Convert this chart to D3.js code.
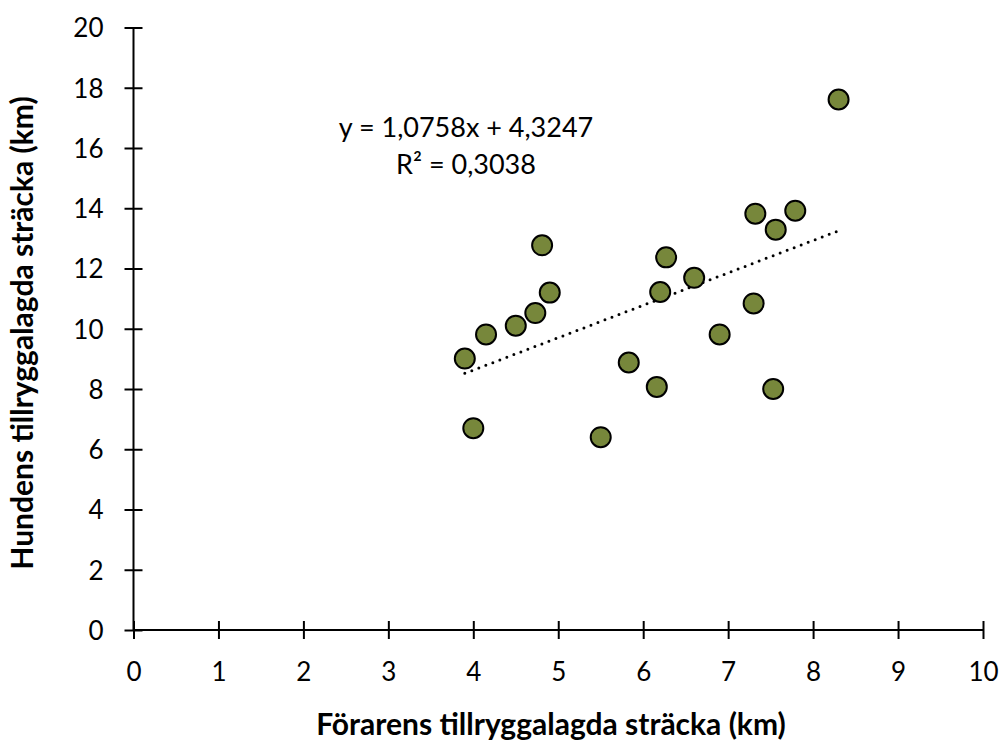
<!DOCTYPE html>
<html lang="sv">
<head>
  <meta charset="UTF-8">
  <title>Hund vs förare</title>
  <script src="https://d3js.org/d3.v7.min.js"></script>
  <style>
    body { margin: 0; background: #fff; }
    text { font-family: Lato, "Open Sans", sans-serif; fill: #000; }
    .tick text { font-size: 26px; }
    .axis-title { font-size: 30px; font-weight: bold; }
    .eq { font-size: 27px; }
  </style>
</head>
<body>
  <svg width="1002" height="740"></svg>

  <script>
    // förarens sträcka (km)
    const forare = [3.90, 4.00, 4.15, 4.50, 4.73, 4.81, 4.90, 5.50, 5.83, 6.16,
                    6.20, 6.27, 6.60, 6.90, 7.30, 7.32, 7.53, 7.56, 7.79, 8.30];
    // hundens sträcka (km)
    const hund = [9.01, 6.70, 9.81, 10.10, 10.52, 12.77, 11.20, 6.40, 8.88, 8.07,
                  11.22, 12.37, 11.69, 9.81, 10.84, 13.82, 8.00, 13.29, 13.92, 17.61];
    const xTicks = [0, 1, 2, 3, 4, 5, 6, 7, 8, 9, 10];
    const yTicks = [0, 2, 4, 6, 8, 10, 12, 14, 16, 18, 20];
    const slope = 1.0758, intercept = 4.3247;
    const eqLines = ["y = 1,0758x + 4,3247", "R² = 0,3038"];

    const svg = d3.select("svg");
    const x = d3.scaleLinear().domain([0, 10]).range([133.5, 983]);
    const y = d3.scaleLinear().domain([0, 20]).range([630, 27.5]);

    const xAxis = svg.append("g")
      .attr("transform", "translate(0,630)")
      .call(d3.axisBottom(x).tickValues(xTicks).tickSize(9).tickFormat(d3.format("d")));
    xAxis.selectAll(".tick line").attr("y1", -9);
    xAxis.selectAll(".tick text").attr("y", 51).attr("dy", null);

    const yAxis = svg.append("g")
      .attr("transform", "translate(133.5,0)")
      .call(d3.axisLeft(y).tickValues(yTicks).tickSize(9).tickFormat(d3.format("d")));
    yAxis.selectAll(".tick line").attr("x1", 9);
    yAxis.selectAll(".tick text").attr("x", -30).attr("dy", "0.36em");

    // plain axis lines without end caps
    xAxis.select(".domain").attr("d", `M${x(0)},0H${x(10)}`);
    yAxis.select(".domain").attr("d", `M0,${y(0)}V${y(20)}`);
    svg.selectAll(".domain, .tick line").attr("stroke", "#000").attr("stroke-width", 2);

    // trendline
    const xMin = d3.min(forare), xMax = d3.max(forare);
    svg.append("line")
      .attr("x1", x(xMin)).attr("y1", y(slope * xMin + intercept))
      .attr("x2", x(xMax)).attr("y2", y(slope * xMax + intercept))
      .attr("stroke", "#000")
      .attr("stroke-width", 3)
      .attr("stroke-linecap", "round")
      .attr("stroke-dasharray", "0 7.5");

    // points
    svg.selectAll(".pt")
      .data(forare.map((v, i) => [v, hund[i]]))
      .enter().append("circle")
      .attr("class", "pt")
      .attr("cx", d => x(d[0]))
      .attr("cy", d => y(d[1]))
      .attr("r", 10)
      .attr("fill", "#77873b")
      .attr("stroke", "#000")
      .attr("stroke-width", 2);

    // equation
    svg.selectAll(".eq")
      .data(eqLines)
      .enter().append("text")
      .attr("class", "eq")
      .attr("x", 466)
      .attr("y", (d, i) => 137 + i * 37)
      .attr("text-anchor", "middle")
      .text(d => d);

    svg.append("text")
      .attr("class", "axis-title")
      .attr("x", 551)
      .attr("y", 735)
      .attr("text-anchor", "middle")
      .text("Förarens tillryggalagda sträcka (km)");

    svg.append("text")
      .attr("class", "axis-title")
      .attr("transform", "translate(33,333) rotate(-90)")
      .attr("text-anchor", "middle")
      .text("Hundens tillryggalagda sträcka (km)");
  </script>
</body>
</html>
